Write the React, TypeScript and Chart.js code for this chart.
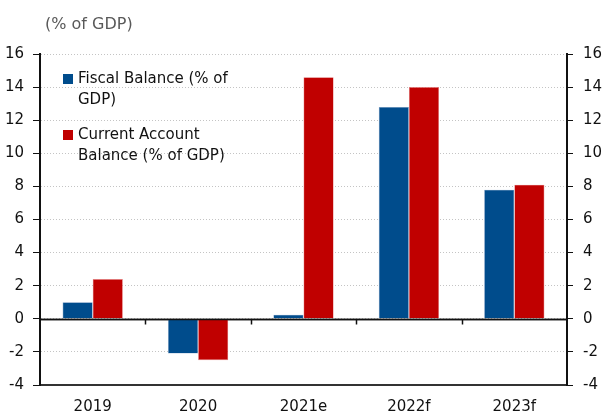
import React, { useEffect, useRef } from "react";
import { Chart, registerables } from "chart.js";

Chart.register(...registerables);

const categories = ["2019", "2020", "2021e", "2022f", "2023f"];
const fiscalBalance = [1.0, -2.1, 0.25, 12.8, 7.8];
const currentAccount = [2.4, -2.5, 14.6, 14.0, 8.1];
const seriesNames = ["Fiscal Balance (% of GDP)", "Current Account Balance (% of GDP)"];
const unitLabel = "(% of GDP)";
const yMin = -4;
const yMax = 16;
const yStep = 2;

const FONT = "'DejaVu Sans', sans-serif";
const BLUE = "#004C8C";
const RED = "#C00000";

function wrapText(ctx: CanvasRenderingContext2D, text: string, maxW: number): string[] {
  const words = text.split(" ");
  const lines: string[] = [];
  let cur = "";
  for (const w of words) {
    const test = cur ? cur + " " + w : w;
    if (ctx.measureText(test).width > maxW && cur) {
      lines.push(cur);
      cur = w;
    } else cur = test;
  }
  if (cur) lines.push(cur);
  return lines;
}

const decorPlugin = {
  id: "decor",
  beforeDatasetsDraw(chart: any) {
    const ctx = chart.ctx as CanvasRenderingContext2D;
    const y = chart.scales.y;
    const area = chart.chartArea;
    const y0 = Math.round(y.getPixelForValue(0)) + 0.5;
    ctx.save();
    ctx.strokeStyle = "#111";
    ctx.lineWidth = 1.5;
    ctx.beginPath();
    ctx.moveTo(area.left, y0);
    ctx.lineTo(area.right, y0);
    ctx.stroke();
    ctx.restore();
  },
  afterDatasetsDraw(chart: any) {
    const ctx = chart.ctx as CanvasRenderingContext2D;
    const x = chart.scales.x;
    const y = chart.scales.y;
    const area = chart.chartArea;
    const y0 = Math.round(y.getPixelForValue(0)) + 0.5;
    ctx.save();
    ctx.strokeStyle = "#111";
    ctx.lineWidth = 1.5;
    ctx.beginPath();
    ctx.moveTo(area.left, y0);
    ctx.lineTo(area.right, y0);
    ctx.stroke();
    for (let i = 1; i < categories.length; i++) {
      const px = Math.round((x.getPixelForValue(i - 1) + x.getPixelForValue(i)) / 2) + 0.5;
      ctx.beginPath();
      ctx.moveTo(px, y0);
      ctx.lineTo(px, y0 + 5);
      ctx.stroke();
    }
    ctx.restore();
  },
  afterDraw(chart: any) {
    const ctx = chart.ctx as CanvasRenderingContext2D;
    const area = chart.chartArea;
    ctx.save();
    ctx.font = `16px ${FONT}`;
    ctx.fillStyle = "#595959";
    ctx.textBaseline = "middle";
    ctx.textAlign = "left";
    ctx.fillText(unitLabel, area.left + 5, 25);
    ctx.font = `15px ${FONT}`;
    const boxX = area.left + 23;
    const textX = area.left + 38;
    let lineY = area.top + 25;
    chart.data.datasets.forEach((ds: any) => {
      const lines = wrapText(ctx, ds.label, 165);
      ctx.fillStyle = ds.backgroundColor;
      ctx.fillRect(boxX, lineY - 5, 10, 10);
      ctx.fillStyle = "#111";
      lines.forEach((ln, j) => {
        ctx.fillText(ln, textX, lineY + j * 21);
      });
      lineY += lines.length * 21 + 14;
    });
    ctx.restore();
  },
};

export default function App() {
  const ref = useRef<HTMLCanvasElement>(null);
  useEffect(() => {
    document.body.style.margin = "0";
    const chart = new Chart(ref.current!, {
      type: "bar",
      data: {
        labels: categories,
        datasets: [
          {
            label: seriesNames[0],
            data: fiscalBalance,
            backgroundColor: BLUE,
            borderColor: "#7f9cc4",
            borderWidth: 0.6,
          },
          {
            label: seriesNames[1],
            data: currentAccount,
            backgroundColor: RED,
            borderColor: "#e58080",
            borderWidth: 0.6,
          },
        ],
      },
      plugins: [decorPlugin],
      options: {
        responsive: false,
        animation: false,
        layout: { padding: { top: 54, left: 0, right: 0, bottom: 0 } },
        datasets: { bar: { categoryPercentage: 0.572, barPercentage: 1 } },
        plugins: { legend: { display: false }, tooltip: { enabled: false }, title: { display: false } },
        scales: {
          x: {
            grid: { display: false, drawTicks: false },
            border: { display: true, color: "#333", width: 2 },
            ticks: { color: "#111", font: { family: FONT, size: 15 }, padding: 13 },
            afterFit: (s: any) => {
              s.height = 27;
            },
          },
          y: {
            position: "left",
            min: yMin,
            max: yMax,
            ticks: { stepSize: yStep, color: "#111", font: { family: FONT, size: 15 }, padding: 9 },
            grid: {
              color: "#c4c4c4",
              lineWidth: 1,
              tickColor: "#111",
              tickLength: 7,
              tickBorderDash: [],
            } as any,
            border: { display: true, color: "#111", width: 2, dash: [1, 2] },
            afterFit: (s: any) => {
              s.width = 40;
            },
          },
          y2: {
            position: "right",
            min: yMin,
            max: yMax,
            ticks: { stepSize: yStep, color: "#111", font: { family: FONT, size: 15 }, padding: 10 },
            grid: { drawOnChartArea: false, tickColor: "#111", tickLength: 6 },
            border: { display: true, color: "#111", width: 2 },
            afterFit: (s: any) => {
              s.width = 39;
            },
          },
        },
      },
    });
    return () => chart.destroy();
  }, []);
  return (
    <div style={{ width: 606, height: 412 }}>
      <canvas ref={ref} width={606} height={412} />
    </div>
  );
}
